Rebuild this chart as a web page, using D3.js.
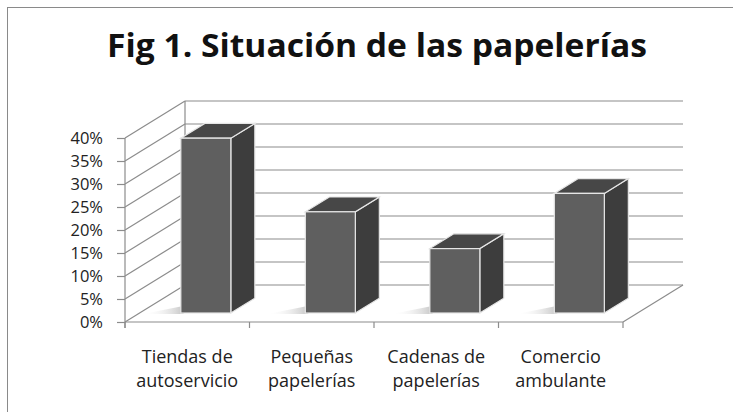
<!DOCTYPE html>
<html>
<head>
<meta charset="utf-8">
<script src="https://cdn.jsdelivr.net/npm/d3@7"></script>
<style>
  body { margin: 0; background: #fff; }
  text { font-family: "Open Sans", "Noto Sans", sans-serif; }
</style>
</head>
<body>
<div id="chart"></div>
<script>
var categories = [["Tiendas de", "autoservicio"], ["Pequeñas", "papelerías"], ["Cadenas de", "papelerías"], ["Comercio", "ambulante"]];
var values = [0.38, 0.22, 0.14, 0.26];
var ticks = [0, 0.05, 0.10, 0.15, 0.20, 0.25, 0.30, 0.35, 0.40];

var width = 733;
var height = 412;

// depth of the 3d box and of the bars
var depthX = 60, depthY = -37;
var barFront = 0.243, barBack = 0.643;
var barWidth = 50;

var svg = d3.select("#chart")
    .append("svg")
    .attr("width", width)
    .attr("height", height);

svg.append("rect")
    .attr("x", 7.5).attr("y", 7.5)
    .attr("width", width).attr("height", height)
    .attr("fill", "white")
    .attr("stroke", "#8a8a8a");

svg.append("text")
    .attr("x", 377)
    .attr("y", 57)
    .attr("text-anchor", "middle")
    .attr("font-size", "33px")
    .attr("font-weight", "bold")
    .attr("fill", "#111")
    .attr("textLength", 540)
    .attr("lengthAdjust", "spacingAndGlyphs")
    .text("Fig 1. Situación de las papelerías");

var x = d3.scaleBand()
    .domain(d3.range(categories.length))
    .range([125, 623]);

var y = d3.scaleLinear()
    .domain([0, 0.4])
    .range([322, 138]);

var grid = svg.append("g")
    .attr("stroke", "#8c8c8c")
    .attr("stroke-width", 1.2)
    .attr("fill", "none");

// back wall lines
grid.selectAll(".back")
    .data(ticks)
    .enter().append("line")
    .attr("x1", x.range()[0] + depthX)
    .attr("x2", x.range()[1] + depthX)
    .attr("y1", function (d) { return y(d) + depthY; })
    .attr("y2", function (d) { return y(d) + depthY; });

// side wall lines
grid.selectAll(".side")
    .data(ticks)
    .enter().append("line")
    .attr("x1", x.range()[0])
    .attr("x2", x.range()[0] + depthX)
    .attr("y1", function (d) { return y(d); })
    .attr("y2", function (d) { return y(d) + depthY; });

grid.append("line")
    .attr("x1", x.range()[0] + depthX).attr("x2", x.range()[0] + depthX)
    .attr("y1", y(0.4) + depthY).attr("y2", y(0) + depthY);

// floor right edge
grid.append("line")
    .attr("x1", x.range()[1]).attr("x2", x.range()[1] + depthX)
    .attr("y1", y(0)).attr("y2", y(0) + depthY);

// y axis
var yAxis = svg.append("g")
    .attr("transform", "translate(" + x.range()[0] + ",0)")
    .call(d3.axisLeft(y).tickValues(ticks).tickFormat(d3.format(".0%")).tickSize(8).tickPadding(14));
yAxis.selectAll("line, path").attr("stroke", "#8c8c8c").attr("stroke-width", 1.2);
yAxis.select(".domain").attr("d", "M0," + (y(0.4)) + "V" + (y(0) + 6));
yAxis.selectAll("text")
    .attr("font-size", "16.5px")
    .attr("fill", "#222")
    .style("font-family", "'Open Sans', sans-serif");

// x axis
var xg = svg.append("g").attr("stroke", "#8c8c8c").attr("stroke-width", 1.2);
xg.append("line")
    .attr("x1", x.range()[0]).attr("x2", x.range()[1])
    .attr("y1", y(0)).attr("y2", y(0));
xg.selectAll(".tick")
    .data(d3.range(categories.length + 1))
    .enter().append("line")
    .attr("x1", function (d) { return x.range()[0] + d * x.bandwidth(); })
    .attr("x2", function (d) { return x.range()[0] + d * x.bandwidth(); })
    .attr("y1", y(0))
    .attr("y2", y(0) + 6);

var label = svg.selectAll(".label")
    .data(categories)
    .enter().append("text")
    .attr("text-anchor", "middle")
    .attr("font-size", "18px")
    .attr("fill", "#222");
label.selectAll("tspan")
    .data(function (d, i) { return d.map(function (t, j) { return { t: t, i: i, j: j }; }); })
    .enter().append("tspan")
    .attr("x", function (d) { return x(d.i) + x.bandwidth() / 2; })
    .attr("y", function (d) { return 363 + d.j * 24; })
    .text(function (d) { return d.t; });

// shadow gradient
var defs = svg.append("defs");
var grad = defs.append("linearGradient").attr("id", "shadow")
    .attr("x1", "0").attr("x2", "1").attr("y1", "0").attr("y2", "0");
grad.append("stop").attr("offset", "0").attr("stop-color", "#fff").attr("stop-opacity", 0);
grad.append("stop").attr("offset", "1").attr("stop-color", "#8a8a8a").attr("stop-opacity", 0.95);

var bars = svg.selectAll(".bar")
    .data(values)
    .enter().append("g");

function bx(i) { return x(i) + x.bandwidth() / 2 - barWidth / 2 + barFront * depthX + 4; }
var base = y(0) + barFront * depthY;
var dX = (barBack - barFront) * depthX, dY = (barBack - barFront) * depthY;

bars.append("polygon")
    .attr("fill", "url(#shadow)")
    .attr("points", function (d, i) {
        var x0 = bx(i);
        return [[x0 - 38, base + 1], [x0 + 2, base + 1], [x0 + 2 + dX * 0.7, base + dY * 0.7]].join(" ");
    });

// side face
bars.append("polygon")
    .attr("fill", "#3d3d3d")
    .attr("stroke", "#e6e6e6")
    .attr("stroke-width", 1.2)
    .attr("points", function (d, i) {
        var x1 = bx(i) + barWidth, top = base - (y(0) - y(d));
        return [[x1, base], [x1 + dX, base + dY], [x1 + dX, top + dY], [x1, top]].join(" ");
    });

// top face
bars.append("polygon")
    .attr("fill", "#474747")
    .attr("stroke", "#e6e6e6")
    .attr("stroke-width", 1.2)
    .attr("points", function (d, i) {
        var x0 = bx(i), top = base - (y(0) - y(d));
        return [[x0, top], [x0 + barWidth, top], [x0 + barWidth + dX, top + dY], [x0 + dX, top + dY]].join(" ");
    });

// front face
bars.append("rect")
    .attr("fill", "#5f5f5f")
    .attr("stroke", "#e6e6e6")
    .attr("stroke-width", 1.2)
    .attr("x", function (d, i) { return bx(i); })
    .attr("y", function (d) { return base - (y(0) - y(d)); })
    .attr("width", barWidth)
    .attr("height", function (d) { return y(0) - y(d); });
</script>
</body>
</html>
